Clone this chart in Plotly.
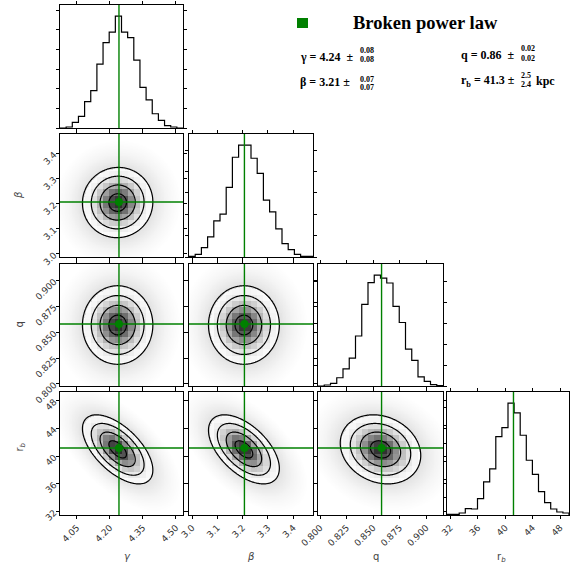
import numpy as np
import plotly.graph_objects as go

# ---------------- data ----------------
param_labels = ["<i>γ</i>", "<i>β</i>", "q", "r<sub><i>b</i></sub>"]
truths = [4.241, 3.207, 0.858, 41.2]
axis_ranges = [[3.973, 4.532], [2.988, 3.478], [0.798, 0.916], [31.5, 49.3]]
tick_values = [[4.05, 4.20, 4.35, 4.50],
               [3.0, 3.1, 3.2, 3.3, 3.4],
               [0.800, 0.825, 0.850, 0.875, 0.900],
               [32, 36, 40, 44, 48]]
tick_texts = [["4.05", "4.20", "4.35", "4.50"],
              ["3.0", "3.1", "3.2", "3.3", "3.4"],
              ["0.800", "0.825", "0.850", "0.875", "0.900"],
              ["32", "36", "40", "44", "48"]]

# 1-D histogram counts (20 bins over each axis range)
hist_gamma = [0, 3, 17, 35, 80, 113, 193, 258, 290, 338, 290, 273, 205, 123, 85, 43, 23, 7, 3, 0]
hist_beta = [2, 8, 28, 60, 108, 128, 208, 298, 334, 334, 295, 250, 170, 135, 84, 40, 22, 8, 2, 2]
hist_q = [0, 3, 8, 25, 52, 85, 152, 248, 314, 337, 328, 313, 242, 193, 112, 78, 28, 14, 4, 1]
hist_rb = [2, 2, 6, 19, 18, 49, 99, 138, 235, 262, 335, 306, 239, 164, 122, 70, 37, 18, 9, 6]
histograms = [hist_gamma, hist_beta, hist_q, hist_rb]
hist_dticks = [59.3, 63.8, 63.5, 53.6]

# 2-D posterior shape (centre, spread, correlation) estimated from the panels
centres = [4.235, 3.205, 0.857, 41.0]
spreads = [0.08, 0.07, 0.019, 2.5]
correlations = {(1, 0): 0.02, (2, 0): 0.0, (2, 1): 0.0,
                (3, 0): -0.6, (3, 1): -0.55, (3, 2): -0.18}

title_text = "Broken power law"

# ---------------- layout geometry ----------------
W, H = 570, 565
col_px = [(60, 183), (189, 313), (318, 443), (447, 569)]
row_px = [(5, 128), (134, 257), (264, 386), (392, 515)]
GREEN = "#008000"
FONT = "DejaVu Sans"

fig = go.Figure()
layout = {}
ax_id = 0


def dom_x(c):
    a, b = col_px[c]
    return [a / W, b / W]


def dom_y(r):
    a, b = row_px[r]
    return [1 - b / H, 1 - a / H]


base_axis = dict(showline=True, mirror="ticks", linecolor="black", linewidth=1,
                 ticks="outside", ticklen=3, tickwidth=1, tickcolor="black",
                 showgrid=False, zeroline=False, automargin=False,
                 tickfont=dict(family=FONT, size=9, color="#333"))

for r in range(4):
    for c in range(r + 1):
        ax_id += 1
        sfx = "" if ax_id == 1 else str(ax_id)
        xa, ya = "x" + sfx, "y" + sfx
        xaxis = dict(base_axis, domain=dom_x(c), anchor=ya, range=axis_ranges[c],
                     tickvals=tick_values[c], ticktext=tick_texts[c],
                     showticklabels=(r == 3), tickangle=-45)
        if r == c:
            counts = histograms[c]
            ymax = 1.1 * max(counts)
            yaxis = dict(base_axis, domain=dom_y(r), anchor=xa, range=[0, ymax],
                         tick0=0, dtick=hist_dticks[c], showticklabels=False)
            lo, hi = axis_ranges[c]
            edges = np.linspace(lo, hi, len(counts) + 1)
            xs = [edges[0]] + list(edges[:-1]) + [edges[-1], edges[-1]]
            ys = [0] + list(counts) + [counts[-1], 0]
            fig.add_trace(go.Scatter(x=xs, y=ys, mode="lines", line=dict(color="black", width=1.2, shape="hv"),
                                     xaxis=xa, yaxis=ya, showlegend=False, hoverinfo="skip"))
            fig.add_trace(go.Scatter(x=[truths[c], truths[c]], y=[0, ymax], mode="lines",
                                     line=dict(color=GREEN, width=1.4), xaxis=xa, yaxis=ya,
                                     showlegend=False, hoverinfo="skip"))
        else:
            yaxis = dict(base_axis, domain=dom_y(r), anchor=xa, range=axis_ranges[r],
                         tickvals=tick_values[r], ticktext=tick_texts[r],
                         showticklabels=(c == 0), tickangle=-45)
            rho = correlations[(r, c)]
            mx, my = centres[c], centres[r]
            sx, sy = spreads[c], spreads[r]

            def maha(X, Y):
                u = (X - mx) / sx
                v = (Y - my) / sy
                return np.sqrt((u * u - 2 * rho * u * v + v * v) / (1 - rho * rho))

            # fine grid for haze and contours
            fx = np.linspace(axis_ranges[c][0], axis_ranges[c][1], 160)
            fy = np.linspace(axis_ranges[r][0], axis_ranges[r][1], 160)
            FX, FY = np.meshgrid(fx, fy)
            R = maha(FX, FY)
            haze = np.where((R > 1.95) & (R < 3.6), R, np.nan)
            fig.add_trace(go.Heatmap(x=fx, y=fy, z=haze, zmin=1.95, zmax=3.6,
                                     colorscale=[[0, "rgba(120,120,120,0.22)"], [0.5, "rgba(140,140,140,0.09)"],
                                                 [1, "rgba(160,160,160,0)"]],
                                     showscale=False, xaxis=xa, yaxis=ya, hoverinfo="skip", zsmooth="best"))
            # 20x20 binned density
            ex = np.linspace(axis_ranges[c][0], axis_ranges[c][1], 21)
            ey = np.linspace(axis_ranges[r][0], axis_ranges[r][1], 21)
            cx = 0.5 * (ex[1:] + ex[:-1])
            cy = 0.5 * (ey[1:] + ey[:-1])
            CX, CY = np.meshgrid(cx, cy)
            dens = np.exp(-0.5 * maha(CX, CY) ** 2)
            dens = np.where(dens > 0.1, dens, np.nan)
            fig.add_trace(go.Heatmap(x=ex, y=ey, z=dens, zmin=0, zmax=1.1,
                                     colorscale=[[0, "rgba(255,255,255,0)"], [1, "rgba(0,0,0,1)"]],
                                     showscale=False, xaxis=xa, yaxis=ya, hoverinfo="skip",
                                     xgap=0, ygap=0))
            fig.add_trace(go.Contour(x=fx, y=fy, z=R, contours=dict(start=0.5, end=2.0, size=0.5, coloring="none"),
                                     line=dict(color="black", width=1.2), showscale=False,
                                     xaxis=xa, yaxis=ya, hoverinfo="skip"))
            fig.add_trace(go.Scatter(x=[truths[c], truths[c]], y=axis_ranges[r], mode="lines",
                                     line=dict(color=GREEN, width=1.4), xaxis=xa, yaxis=ya,
                                     showlegend=False, hoverinfo="skip"))
            fig.add_trace(go.Scatter(x=axis_ranges[c], y=[truths[r], truths[r]], mode="lines",
                                     line=dict(color=GREEN, width=1.4), xaxis=xa, yaxis=ya,
                                     showlegend=False, hoverinfo="skip"))
            fig.add_trace(go.Scatter(x=[truths[c]], y=[truths[r]], mode="markers",
                                     marker=dict(color=GREEN, size=8, symbol="circle"),
                                     xaxis=xa, yaxis=ya, showlegend=False, hoverinfo="skip"))
        layout["xaxis" + sfx] = xaxis
        layout["yaxis" + sfx] = yaxis

annotations = []
# axis labels
for c in range(4):
    a, b = col_px[c]
    annotations.append(dict(x=(a + b) / 2 / W, y=1 - 549 / H, xref="paper", yref="paper",
                            text=param_labels[c], showarrow=False, yanchor="top",
                            font=dict(family=FONT, size=10, color="#444")))
for r in range(1, 4):
    a, b = row_px[r]
    annotations.append(dict(x=11 / W, y=1 - (a + b) / 2 / H, xref="paper", yref="paper",
                            text=param_labels[r], showarrow=False, textangle=-90, xanchor="left",
                            font=dict(family=FONT, size=10, color="#444")))

SERIF = "Liberation Serif"


def txt(x, y, s, size, anchor="left"):
    annotations.append(dict(x=x / W, y=1 - y / H, xref="paper", yref="paper", text=s,
                            showarrow=False, xanchor=anchor, yanchor="middle",
                            font=dict(family=SERIF, size=size, color="black")))


txt(351, 23, "<b>" + title_text + "</b>", 18.5)
txt(298, 57, "<b>γ = 4.24  ±</b>", 12)
txt(358, 51, "<b>0.08</b>", 8)
txt(358, 60, "<b>0.08</b>", 8)
txt(298, 82, "<b>β = 3.21 ±</b>", 12)
txt(358, 79, "<b>0.07</b>", 8)
txt(358, 87, "<b>0.07</b>", 8)
txt(459, 55, "<b>q = 0.86  ±</b>", 12)
txt(519, 49, "<b>0.02</b>", 8)
txt(519, 58, "<b>0.02</b>", 8)
txt(459, 81, "<b>r<sub>b</sub> = 41.3 ±</b>", 12)
txt(519, 76, "<b>2.5</b>", 8)
txt(519, 84, "<b>2.4</b>", 8)
txt(534, 81, "<b>kpc</b>", 12)

shapes = [dict(type="rect", xref="paper", yref="paper", x0=297 / W, x1=308 / W,
               y0=1 - 28 / H, y1=1 - 18 / H, fillcolor=GREEN, line=dict(width=0))]

fig.update_layout(width=W, height=H, margin=dict(l=0, r=0, t=0, b=0),
                  paper_bgcolor="white", plot_bgcolor="white", showlegend=False,
                  annotations=annotations, shapes=shapes, **layout)

fig.write_html("out.html", config={"displayModeBar": False},
               post_script="document.body.style.margin='0';document.body.style.padding='0';")
